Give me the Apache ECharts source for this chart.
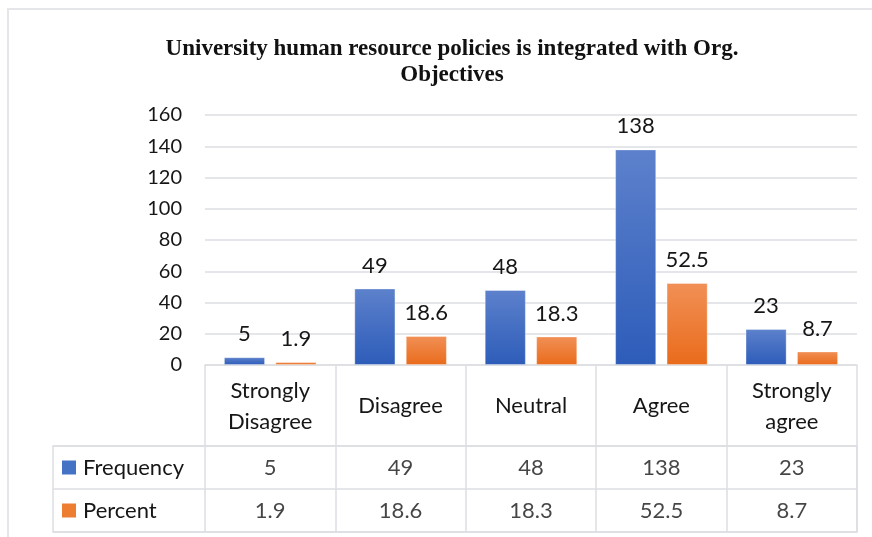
<!DOCTYPE html>
<html>
<head>
<meta charset="utf-8">
<script src="https://cdn.jsdelivr.net/npm/echarts@6/dist/echarts.min.js"></script>
<style>
  html, body { margin: 0; padding: 0; background: #fff; }
  #chart { width: 872px; height: 537px; }
</style>
</head>
<body>
<div id="chart"></div>
<script>
const categories = ['Strongly\nDisagree', 'Disagree', 'Neutral', 'Agree', 'Strongly\nagree'];
const seriesNames = ['Frequency', 'Percent'];
const frequency = [5, 49, 48, 138, 23];
const percent = [1.9, 18.6, 18.3, 52.5, 8.7];
const yTicks = { min: 0, max: 160, interval: 20 };

const textColor = '#161616';
const lineColor = '#dcdee2';
const fontFamily = 'Lato, "Open Sans", sans-serif';

const blueGrad = new echarts.graphic.LinearGradient(0, 0, 0, 1, [
  { offset: 0, color: '#5d81cc' },
  { offset: 1, color: '#2d5cb9' }
]);
const orangeGrad = new echarts.graphic.LinearGradient(0, 0, 0, 1, [
  { offset: 0, color: '#f19056' },
  { offset: 1, color: '#e96b1b' }
]);
const legendColors = ['#4472c4', '#ed7d31'];

const chart = echarts.init(document.getElementById('chart'));

function barSeries(name, data, color) {
  return {
    name,
    type: 'bar',
    xAxisIndex: 0,
    yAxisIndex: 0,
    data,
    barGap: '25%',
    barCategoryGap: '29%',
    itemStyle: { color, borderColor: 'rgba(255,255,255,0.35)', borderWidth: 1 },
    label: {
      show: true,
      position: 'top',
      distance: 12,
      color: textColor,
      fontSize: 22,
      fontFamily
    }
  };
}

function cellSeries(name, data) {
  return {
    name: name + ' cells',
    type: 'scatter',
    xAxisIndex: 2,
    yAxisIndex: 2,
    symbolSize: 1,
    itemStyle: { color: 'transparent' },
    silent: true,
    data: data.map((v, i) => [categories[i], name, v]),
    label: {
      show: true,
      position: 'inside',
      formatter: p => String(p.value[2]),
      color: textColor,
      fontSize: 22,
      fontFamily
    }
  };
}

const option = {
  backgroundColor: '#fff',
  animation: false,
  title: {
    text: 'University human resource policies is integrated with Org.\nObjectives',
    left: 447,
    top: 31,
    textAlign: 'center',
    textStyle: {
      fontFamily: '"Liberation Serif", "DejaVu Serif", serif',
      fontWeight: 'bold',
      fontSize: 23,
      lineHeight: 26,
      color: '#111'
    }
  },
  graphic: [
    {
      type: 'rect',
      shape: { x: 8, y: 9, width: 880, height: 560 },
      style: { fill: 'none', stroke: '#e4e6ea', lineWidth: 2 },
      silent: true
    }
  ],
  grid: [
    // plot area
    { left: 205, right: 15, top: 115, height: 250 },
    // left column of the data table (series names)
    { left: 53, right: 15, top: 446, height: 86, show: true, borderColor: lineColor, borderWidth: 1.5 },
    // value cells of the data table
    { left: 205, right: 15, top: 446, height: 86 }
  ],
  xAxis: [
    {
      type: 'category',
      gridIndex: 0,
      data: categories,
      axisLine: { show: true, lineStyle: { color: lineColor, width: 1.5 } },
      axisTick: { show: true, length: 167, lineStyle: { color: lineColor, width: 1.5 } },
      axisLabel: {
        interval: 0,
        margin: 41,
        verticalAlign: 'middle',
        color: textColor,
        fontSize: 22,
        lineHeight: 31,
        fontFamily
      }
    },
    { type: 'value', gridIndex: 1, show: false },
    { type: 'category', gridIndex: 2, data: categories, show: false }
  ],
  yAxis: [
    {
      type: 'value',
      gridIndex: 0,
      min: yTicks.min,
      max: yTicks.max,
      interval: yTicks.interval,
      axisLine: { show: false },
      axisTick: { show: false },
      axisLabel: { margin: 23, color: textColor, fontSize: 20, fontFamily },
      splitLine: { lineStyle: { color: lineColor, width: 1.5 } }
    },
    {
      type: 'category',
      gridIndex: 1,
      data: seriesNames,
      inverse: true,
      axisLine: { show: false },
      axisTick: { show: false },
      splitLine: { show: true, lineStyle: { color: lineColor, width: 1.5 } },
      axisLabel: {
        inside: true,
        margin: 9,
        formatter: (v, i) => `{s${i}|}{n|${v}}`,
        rich: {
          s0: { backgroundColor: legendColors[0], width: 14, height: 14 },
          s1: { backgroundColor: legendColors[1], width: 14, height: 14 },
          n: { color: textColor, fontSize: 22, fontFamily, padding: [0, 0, 0, 7] }
        }
      }
    },
    { type: 'category', gridIndex: 2, data: seriesNames, inverse: true, show: false }
  ],
  series: [
    barSeries(seriesNames[0], frequency, blueGrad),
    barSeries(seriesNames[1], percent, orangeGrad),
    cellSeries(seriesNames[0], frequency),
    cellSeries(seriesNames[1], percent)
  ]
};

chart.setOption(option);
</script>
</body>
</html>
